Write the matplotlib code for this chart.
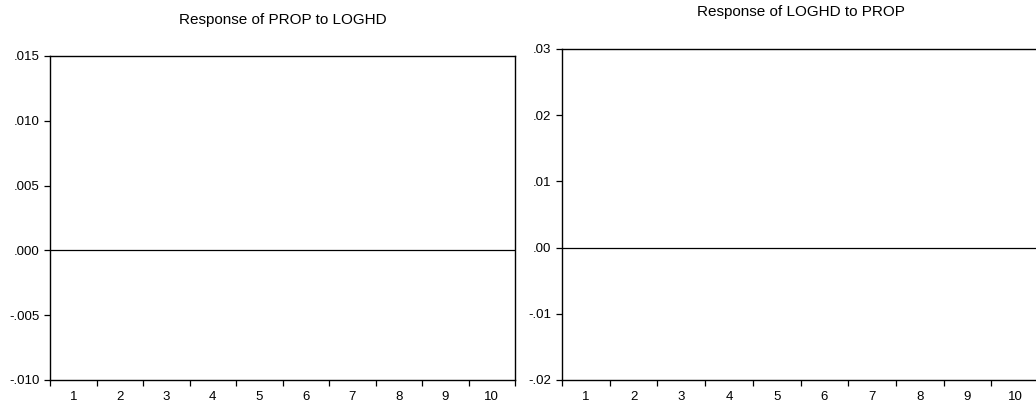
import matplotlib.pyplot as plt
import numpy as np

plt.rcParams['font.family'] = ['Liberation Sans', 'DejaVu Sans']

periods = list(range(1, 11))
titles = ["Response of PROP to LOGHD", "Response of LOGHD to PROP"]
left_yticks = [-0.010, -0.005, 0.000, 0.005, 0.010, 0.015]
left_ylabels = ["-.010", "-.005", ".000", ".005", ".010", ".015"]
right_yticks = [-0.02, -0.01, 0.00, 0.01, 0.02, 0.03]
right_ylabels = ["-.02", "-.01", ".00", ".01", ".02", ".03"]

fig = plt.figure(figsize=(10.36, 4.05), dpi=100)
ax1 = fig.add_axes([50/1036, 1-380/405, 465/1036, 324/405])
ax2 = fig.add_axes([562/1036, 1-380/405, 477/1036, 331/405])


def style(ax, yticks, ylabels):
    ax.set_xlim(periods[0] - 0.5, periods[-1] + 0.5)
    ax.set_ylim(yticks[0], yticks[-1])
    ax.axhline(0, color='black', lw=0.9)
    ax.set_xticks(np.arange(periods[0] - 0.5, periods[-1] + 1, 1))
    ax.set_xticklabels([])
    ax.set_xticks(periods, minor=True)
    ax.set_xticklabels([str(p) for p in periods], minor=True)
    ax.tick_params(axis='x', which='major', length=4.5, width=0.9, direction='out')
    ax.tick_params(axis='x', which='minor', length=0, pad=8, labelsize=9.5)
    ax.set_yticks(yticks)
    ax.set_yticklabels(ylabels)
    ax.tick_params(axis='y', length=4, width=0.9, pad=3.5, labelsize=9.5)
    for s in ax.spines.values():
        s.set_linewidth(1.0)
        s.set_color('black')


style(ax1, left_yticks, left_ylabels)
style(ax2, right_yticks, right_ylabels)

fig.text(283/1036, 1-20/405, titles[0], ha='center', va='center', fontsize=11)
fig.text(801/1036, 1-12/405, titles[1], ha='center', va='center', fontsize=11)

fig.savefig('out.png', dpi=100)
